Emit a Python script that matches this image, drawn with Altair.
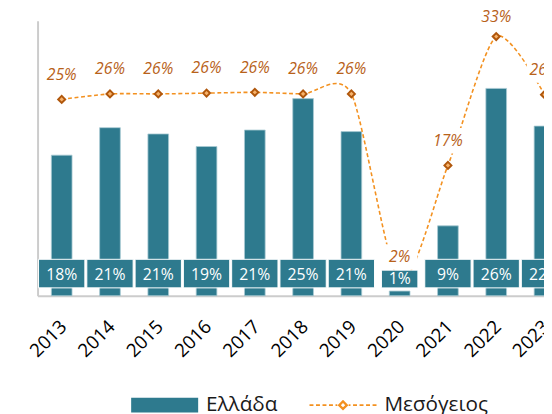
import altair as alt
import pandas as pd

# ---- data ----
years = [2013, 2014, 2015, 2016, 2017, 2018, 2019, 2020, 2021, 2022, 2023]
greece = [0.179, 0.214, 0.206, 0.190, 0.211, 0.251, 0.209, 0.006, 0.089, 0.264, 0.216]
mediterranean = [0.250, 0.257, 0.257, 0.258, 0.259, 0.257, 0.257, 0.018, 0.166, 0.330, 0.256]
series_names = ["Ελλάδα", "Μεσόγειος"]

df = pd.DataFrame({"year": years, "greece": greece, "med": mediterranean})

# ---- style ----
FONT = "Open Sans"
TEAL = "#2E7A8E"
ORANGE = "#F39120"
LABEL_ORANGE = "#B8621A"


def rect_path(w, h):
    # unit path scaled by sqrt(size)/2 in Vega; width spans [-1, 1]
    r = h / w
    return f"M-1,-{r:.4f}H1V{r:.4f}H-1Z"


# legend symbol for the dashed line with a diamond marker (68 px wide)
def legend_line_path():
    s = 34.0
    dash, gap, th = 4 / s, 2.6 / s, 0.8 / s
    parts = []
    x = -1.0
    while x < -0.17:
        x2 = min(x + dash, -0.17)
        parts.append(f"M{x:.4f},-{th:.4f}H{x2:.4f}V{th:.4f}H{x:.4f}Z")
        parts.append(f"M{-x2:.4f},-{th:.4f}H{-x:.4f}V{th:.4f}H{-x2:.4f}Z")
        x += dash + gap
    d_out, d_in = 5.5 / s, 2.2 / s
    parts.append(f"M0,-{d_out:.4f}L{d_out:.4f},0L0,{d_out:.4f}L-{d_out:.4f},0Z")
    parts.append(f"M0,-{d_in:.4f}L-{d_in:.4f},0L0,{d_in:.4f}L{d_in:.4f},0Z")
    return "".join(parts)


xscale = alt.Scale(range=[0, 539], paddingInner=0.04, paddingOuter=0.02)
yscale = alt.Scale(domain=[0, 0.35])

xaxis = alt.Axis(
    title=None, labelAngle=-45, labelAlign="right", labelBaseline="middle",
    labelFont=FONT, labelFontSize=19, labelColor="#000000", ticks=False,
    labelPadding=28, labelOffset=2, domainColor="#CCCCCC", domainWidth=2,
)
yaxis = alt.Axis(
    title=None, labels=False, ticks=False, grid=False,
    domainColor="#CCCCCC", domainWidth=2,
)

base = alt.Chart(df).encode(x=alt.X("year:O", scale=xscale, axis=xaxis))

bars = base.mark_bar(size=21, color=TEAL, stroke="#A9CBD4", strokeWidth=0.8).encode(
    y=alt.Y("greece:Q", scale=yscale, axis=yaxis)
)

line = base.mark_line(
    color=ORANGE, strokeDash=[4, 2.6], strokeWidth=1.6,
    interpolate="cardinal", tension=0.25,
).encode(y=alt.Y("med:Q"))

top_label = alt.datum.year == 2022
other_label = alt.datum.year != 2022

label_bg = base.mark_point(
    shape=rect_path(36, 26), size=36 * 36, filled=True, color="white",
    opacity=1, yOffset=-25,
).encode(y=alt.Y("med:Q")).transform_filter(other_label)

label_bg_top = base.mark_point(
    shape=rect_path(36, 26), size=36 * 36, filled=True, color="white",
    opacity=1, yOffset=-20,
).encode(y=alt.Y("med:Q")).transform_filter(top_label)

markers = base.mark_point(
    shape="diamond", size=50, filled=True, fill="#F7B26A",
    stroke="#B0570C", strokeWidth=2, opacity=1,
).encode(y=alt.Y("med:Q"))

med_text = base.mark_text(
    font=FONT, fontSize=16, fontStyle="italic", color=LABEL_ORANGE, dy=-25,
).encode(y=alt.Y("med:Q"), text=alt.Text("med:Q", format=".0%")).transform_filter(other_label)

med_text_top = base.mark_text(
    font=FONT, fontSize=16, fontStyle="italic", color=LABEL_ORANGE, dy=-20,
).encode(y=alt.Y("med:Q"), text=alt.Text("med:Q", format=".0%")).transform_filter(top_label)

not2020 = alt.datum.year != 2020
is2020 = alt.datum.year == 2020

boxes = base.mark_point(
    shape=rect_path(47, 29), size=47 * 47, filled=True, fill=TEAL,
    stroke="white", strokeWidth=1, opacity=1, yOffset=-22.5,
).encode(y=alt.datum(0)).transform_filter(not2020)

boxes20 = base.mark_point(
    shape=rect_path(37, 18), size=37 * 37, filled=True, fill=TEAL,
    stroke="white", strokeWidth=1, opacity=1, yOffset=-17,
).encode(y=alt.datum(0)).transform_filter(is2020)

box_text = base.mark_text(
    font=FONT, fontSize=16, color="white", dy=-20.5,
).encode(y=alt.datum(0), text=alt.Text("greece:Q", format=".0%")).transform_filter(not2020)

box_text20 = base.mark_text(
    font=FONT, fontSize=16, color="white", dy=-17,
).encode(y=alt.datum(0), text=alt.Text("greece:Q", format=".0%")).transform_filter(is2020)

# legend (one entry per series)
leg_df = pd.DataFrame({"series": series_names, "year": [years[0]] * 2, "zero": [0, 0]})
legend_def = dict(
    title=None, orient="none", legendX=95, legendY=356, direction="horizontal",
    symbolSize=68 * 68, symbolOpacity=1, symbolStrokeWidth=0,
    labelFont=FONT, labelFontSize=21, labelColor="#1A1A1A",
    labelOffset=8, columnPadding=32, padding=0,
)
legend_layer = alt.Chart(leg_df).mark_point(filled=True, size=0, opacity=1).encode(
    x=alt.X("year:O"),
    y=alt.Y("zero:Q"),
    color=alt.Color("series:N", scale=alt.Scale(domain=series_names, range=[TEAL, ORANGE]),
                    legend=alt.Legend(**legend_def)),
    shape=alt.Shape("series:N", scale=alt.Scale(domain=series_names,
                    range=[rect_path(68, 15), legend_line_path()]),
                    legend=alt.Legend(**legend_def)),
)

chart = alt.layer(
    bars, line, label_bg, label_bg_top, markers, med_text, med_text_top,
    boxes, boxes20, box_text, box_text20, legend_layer
).properties(
    width=514, height=279,
    padding={"left": 30, "top": 10, "right": 0, "bottom": 120},
    autosize=alt.AutoSizeParams(type="none"),
).configure_view(strokeWidth=0)

chart.save("out.html", embed_options={"renderer": "svg", "actions": False})
